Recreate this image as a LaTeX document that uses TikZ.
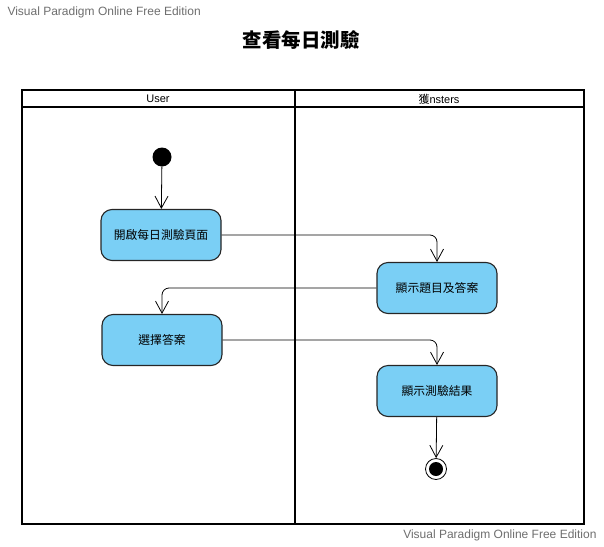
\documentclass[tikz,border=0pt]{standalone}
\usepackage{fontspec}
\setmainfont{Liberation Sans}
\newfontfamily\cjk{Noto Sans CJK TC}
\usetikzlibrary{arrows.meta}
\definecolor{actblue}{RGB}{122,207,245}
\definecolor{markgray}{RGB}{110,110,110}
\tikzset{
	action/.style={draw=black!85, line width=1.1pt, fill=actblue, rounded corners=11pt, minimum width=120pt, minimum height=51pt, inner sep=0pt, font=\cjk\fontsize{11.8}{13}\selectfont},
	flow/.style={draw, line width=0.8pt, -{Straight Barb[length=12pt,width=13pt,line width=0.8pt]}, rounded corners=7pt},
	lane/.style={line width=1.7pt},
	lanetitle/.style={font=\fontsize{11}{12}\selectfont},
	startnode/.style={circle, fill=black, minimum size=19pt, inner sep=0pt},
	endnode/.style={circle, draw, line width=0.8pt, fill=white, minimum size=21pt, inner sep=0pt, path picture={\fill[black] (path picture bounding box.center) circle (7pt);}},
	watermark/.style={text=markgray, font=\fontsize{12}{14}\selectfont}
}
\begin{document}
\begin{tikzpicture}[x=1pt, y=-1pt]
				\useasboundingbox (0,0) rectangle (604,546);
				
				\node[watermark, anchor=west] (wmtop) at (4,12) {Visual Paradigm Online Free Edition};
				\node[watermark, anchor=east] (wmbottom) at (600,535) {Visual Paradigm Online Free Edition};
				\node[font=\cjk\bfseries\fontsize{19.5}{21}\selectfont] (title) at (301,40) {查看每日測驗};
				
				\draw[lane] (22,90) rectangle (584,524);
				\draw[lane] (22,107) -- (584,107);
				\draw[lane] (295,90) -- (295,524);
				\node[lanetitle] (user) at (158,99) {User};
				\node[lanetitle] (system) at (439,99) {{\cjk 獲}nsters};
				
				\node[startnode] (start) at (162,157) {};
				\node[action] (open) at (161,235) {開啟每日測驗頁面};
				\node[action] (show) at (437,288) {顯示題目及答案};
				\node[action] (pick) at (162,340) {選擇答案};
				\node[action] (result) at (437,391) {顯示測驗結果};
				\node[endnode] (end) at (436,469) {};
				
				\draw[flow, rounded corners=0pt] (start) -- (open);
				\draw[flow] (open.east) -| (show.north);
				\draw[flow] (show.west) -| (pick.north);
				\draw[flow] (pick.east) -| (result.north);
				\draw[flow, rounded corners=0pt] (result) -- (end);
\end{tikzpicture}
\end{document}
